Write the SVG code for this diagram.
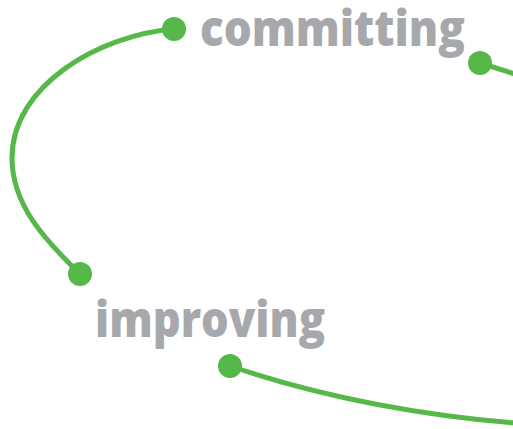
<svg xmlns="http://www.w3.org/2000/svg" width="513" height="429" viewBox="0 0 513 429">
<style>
.lbl{font-family:"Open Sans","Noto Sans","DejaVu Sans",sans-serif;font-weight:800;font-size:50px;fill:#a7a8ab}
.ln{fill:none;stroke:#55b848;stroke-width:5;stroke-linecap:round}
.dot{fill:#55b848}
</style>
<rect width="513" height="429" fill="#ffffff"/>
<g id="connectors">
<path class="ln" d="M174,29 C100,35 12,85 12,158 C12,205 45,240 80,274"/>
<path class="ln" d="M480,63 L515,74"/>
<path class="ln" d="M230,366 Q360,410 515,423"/>
</g>
<g id="node-committing">
<circle class="dot" cx="174" cy="29" r="12"/>
<text class="lbl" x="200" y="46" textLength="265" lengthAdjust="spacingAndGlyphs">committing</text>
<circle class="dot" cx="480" cy="63" r="12"/>
</g>
<g id="node-improving">
<circle class="dot" cx="80" cy="274" r="12"/>
<text class="lbl" x="95" y="337" textLength="230" lengthAdjust="spacingAndGlyphs">improving</text>
<circle class="dot" cx="230" cy="366" r="12"/>
</g>
</svg>
